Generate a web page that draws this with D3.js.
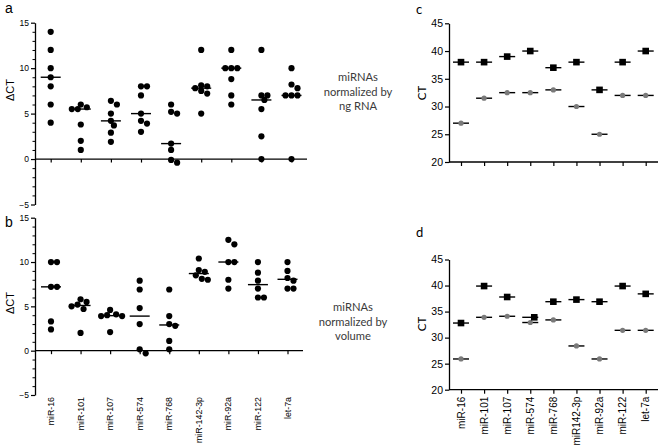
<!DOCTYPE html>
<html><head><meta charset="utf-8">
<script src="https://cdn.jsdelivr.net/npm/d3@7"></script>
<style>
html,body{margin:0;padding:0;background:#fff;}
svg{display:block;font-family:"Liberation Sans",Arial,sans-serif;}
</style></head>
<body>
<svg id="chart" width="662" height="448"></svg>
<script>
// ---------- data ----------
const categories = ["miR-16","miR-101","miR-107","miR-574","miR-768","miR-142-3p","miR-92a","miR-122","let-7a"];
const categoriesD = ["miR-16","miR-101","miR-107","miR-574","miR-768","miR142-3p","miR-92a","miR-122","let-7a"];
// panel a: ΔCT normalized by ng RNA
const deltaNg = [
  [14,12,10,9,8,6,4],
  [6.0,5.7,5.5,5.5,3.8,2.0,1.0],
  [6.4,6.0,5.0,4.2,3.7,2.9,1.9],
  [8,8,7,5,4.2,3.9,3],
  [6,5.2,5,1.7,1,-0.1,-0.4],
  [12,8.1,8.0,7.8,7.5,7.2,5],
  [12,10,10,10,8.8,7,6],
  [12,7,7,6.5,5.5,2.5,0],
  [10,8.2,7.8,7,7,7,0]
];
// panel b: ΔCT normalized by volume
const deltaVol = [
  [10,10,7.2,7.2,3.3,2.4],
  [5.8,5.5,5.2,5.0,4.7,2.0],
  [4.6,4.1,4.0,3.9,3.9,2.1],
  [7.9,6.9,4.8,3.0,0.15,-0.3],
  [6.9,3.9,3.0,2.8,1.1,0.15],
  [10.4,9.1,8.9,8.5,8.1,8.0],
  [12.5,12,10,10,8,7],
  [10,8.8,7.9,7.0,6.0,6.0],
  [10,9,8.2,7.9,7,7]
];
// panels c, d: CT (squares = upper series, circles = lower series)
const ctSquaresC = [38,38,39,40,37,38,33,38,40];
const ctCirclesC = [27,31.5,32.5,32.5,33,30,25,32,32];
const ctSquaresD = [32.8,39.9,37.8,33.9,36.9,37.3,36.9,39.9,38.4];
const ctCirclesD = [25.9,33.9,34.1,32.9,33.4,28.4,25.9,31.4,31.4];
const deltaTicks = [-5,0,5,10,15];
const ctTicks = [20,25,30,35,40,45];

// ---------- drawing ----------
const svg = d3.select("#chart");
svg.append("rect").attr("width",662).attr("height",448).attr("fill","#fff");

function swarmOffsets(vals, y, minDist, step){
  const idx = vals.map((v,i)=>i).sort((a,b)=>vals[b]-vals[a]);
  const placed = [];
  const out = new Array(vals.length);
  idx.forEach(i=>{
    const py = y(vals[i]);
    for(let k=0;k<40;k++){
      const m = k===0?0:(k%2===1?Math.ceil(k/2):-Math.ceil(k/2));
      const dx = m*step;
      if(placed.every(p=>Math.hypot(p.dx-dx,p.py-py)>=minDist)){
        placed.push({dx,py}); out[i]=dx; break;
      }
    }
  });
  return out;
}

function deltaPanel(opts){
  const g = svg.append("g");
  const y = d3.scaleLinear().domain([-5,15]).range([opts.yBottom, opts.yTop]);
  const x = d3.scalePoint().domain(categories).range([opts.x0, opts.x1]);
  const yAx = g.append("g").attr("transform",`translate(${opts.axisX},0)`)
    .call(d3.axisLeft(y).tickValues(deltaTicks).tickSize(4).tickSizeOuter(0).tickPadding(2));
  yAx.select(".domain").attr("stroke","#000").attr("stroke-width",1.3);
  yAx.selectAll(".tick line").attr("stroke-width",1.2);
  yAx.selectAll("text").attr("font-size",8.5).attr("font-family","Liberation Sans, Arial");
  const minor = d3.range(-5,15.01,1).filter(v=>v%5!==0);
  g.append("g").attr("transform",`translate(${opts.axisX},0)`)
    .call(d3.axisLeft(y).tickValues(minor).tickSize(2.5).tickFormat("").tickSizeOuter(0))
    .call(s=>s.select(".domain").remove());
  g.append("line").attr("x1",opts.axisX).attr("x2",opts.axisEnd)
    .attr("y1",y(0)).attr("y2",y(0)).attr("stroke","#000").attr("stroke-width",1.3);
  g.append("g").attr("transform",`translate(0,${y(0)})`)
    .call(d3.axisBottom(x).tickSize(3.5).tickFormat(""))
    .call(s=>s.select(".domain").remove())
    .selectAll(".tick line").attr("stroke-width",1.2);
  if(opts.labels){
    g.selectAll("text.cat").data(categories).join("text").attr("class","cat")
      .attr("transform",d=>`translate(${x(d)+3},${opts.yBottom+2}) rotate(-90)`)
      .attr("text-anchor","end").attr("font-size",8.8).text(d=>d);
  }
  opts.data.forEach((vals,ci)=>{
    const cx = x(categories[ci]);
    const offs = swarmOffsets(vals, y, 5.4, 3);
    g.append("line").attr("x1",cx-10).attr("x2",cx+10)
      .attr("y1",y(d3.median(vals))).attr("y2",y(d3.median(vals)))
      .attr("stroke","#000").attr("stroke-width",1.4);
    g.selectAll(null).data(vals).join("circle")
      .attr("cx",(d,i)=>cx+offs[i]).attr("cy",d=>y(d)).attr("r",3.1).attr("fill","#000");
  });
  g.append("text").attr("transform",`translate(${opts.labelX},${opts.labelY}) rotate(-90)`)
    .attr("text-anchor","middle").attr("font-size",11).text("ΔCT");
  g.append("text").attr("x",opts.letterX).attr("y",opts.letterY).attr("font-size",14)
    .attr("font-family","Liberation Sans, Arial").text(opts.letter);
  const tg = g.append("text").attr("text-anchor","middle").attr("fill","#3a3a3a")
    .attr("font-family","Lato, 'Open Sans', sans-serif").attr("font-size",11.2);
  opts.note.forEach((t,i)=>tg.append("tspan").attr("x",opts.noteX).attr("y",opts.noteY+i*14.5).text(t));
}

deltaPanel({data:deltaNg, yTop:22.7, yBottom:204.5, x0:50.7, x1:291.5, axisX:35, axisEnd:307,
  labels:false, labelX:14, labelY:90, letter:"a", letterX:5, letterY:13,
  note:["miRNAs","normalized by","ng RNA"], noteX:358, noteY:81});
deltaPanel({data:deltaVol, yTop:217.7, yBottom:395, x0:51, x1:287.5, axisX:35, axisEnd:303,
  labels:true, labelX:14, labelY:303, letter:"b", letterX:5, letterY:227,
  note:["miRNAs","normalized by","volume"], noteX:353, noteY:311});

function ctPanel(opts){
  const g = svg.append("g");
  const y = d3.scaleLinear().domain([20,45]).range([opts.yBottom, opts.yTop]);
  const x = d3.scalePoint().domain(categoriesD).range([461, 645.7]);
  const yAx = g.append("g").attr("transform",`translate(449,0)`)
    .call(d3.axisLeft(y).tickValues(ctTicks).tickSize(4).tickSizeOuter(0).tickPadding(2));
  yAx.select(".domain").attr("stroke-width",1.3);
  yAx.selectAll(".tick line").attr("stroke-width",1.2);
  yAx.selectAll("text").attr("font-size",10.5).attr("font-family","Liberation Sans, Arial");
  g.append("line").attr("x1",449).attr("x2",658).attr("y1",y(20)).attr("y2",y(20))
    .attr("stroke","#000").attr("stroke-width",1.3);
  g.append("g").attr("transform",`translate(0,${y(20)})`)
    .call(d3.axisBottom(x).tickSize(4).tickFormat(""))
    .call(s=>s.select(".domain").remove())
    .selectAll(".tick line").attr("stroke-width",1.2);
  if(opts.labels){
    g.selectAll("text.cat").data(categoriesD).join("text").attr("class","cat")
      .attr("transform",d=>`translate(${x(d)+3.5},${opts.yBottom+7}) rotate(-90)`)
      .attr("text-anchor","end").attr("font-size",10).text(d=>d);
  }
  categoriesD.forEach((c,i)=>{
    const cx = x(c);
    const sq = opts.squares[i], ci = opts.circles[i];
    const shift = Math.abs(sq-ci) < 1.5 ? 4 : 0;
    [ci, sq].forEach(v=>{
      g.append("line").attr("x1",cx-8).attr("x2",cx+8).attr("y1",y(v)).attr("y2",y(v))
        .attr("stroke","#000").attr("stroke-width",1.4);
    });
    g.append("circle").attr("cx",cx).attr("cy",y(ci)).attr("r",2.6).attr("fill","#7a7a7a");
    g.append("rect").attr("x",cx+shift-3.3).attr("y",y(sq)-3.3).attr("width",6.6).attr("height",6.6).attr("fill","#000");
  });
  g.append("text").attr("transform",`translate(${opts.labelX},${opts.labelY}) rotate(-90)`)
    .attr("text-anchor","middle").attr("font-size",11.5)
    .attr("font-family","Lato, 'Open Sans', sans-serif").text("CT");
  g.append("text").attr("x",416).attr("y",opts.letterY).attr("font-size",13)
    .attr("font-family","Lato, 'Open Sans', sans-serif").text(opts.letter);
}

ctPanel({squares:ctSquaresC, circles:ctCirclesC, yTop:23.3, yBottom:162, labels:false,
  labelX:426, labelY:93, letter:"c", letterY:14});
ctPanel({squares:ctSquaresD, circles:ctCirclesD, yTop:259.5, yBottom:389.7, labels:true,
  labelX:426, labelY:324, letter:"d", letterY:237});
</script>
</body></html>
